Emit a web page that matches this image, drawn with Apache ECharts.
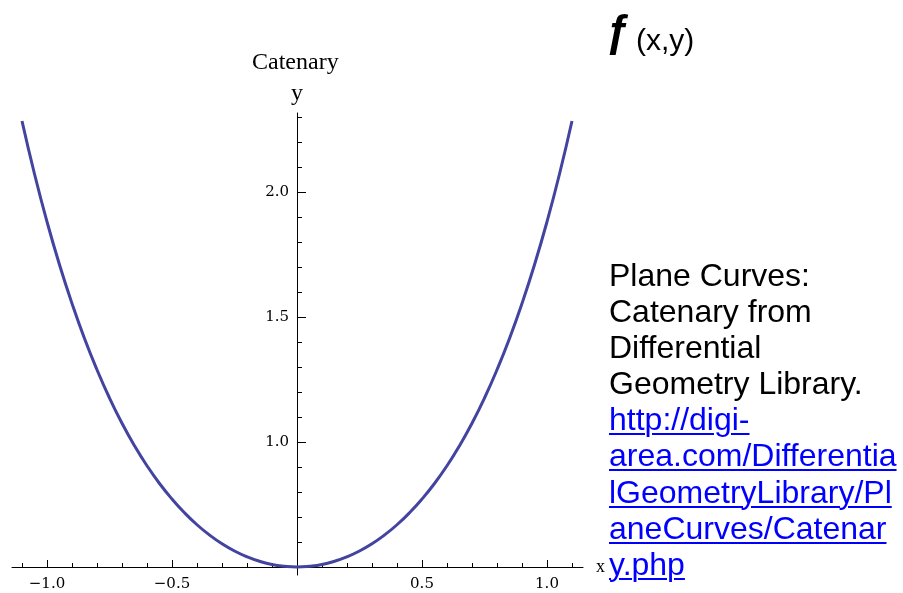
<!DOCTYPE html>
<html>
<head>
<meta charset="utf-8">
<title>Catenary</title>
<script src="https://cdn.jsdelivr.net/npm/echarts@6/dist/echarts.min.js"></script>
<style>
  html, body { margin: 0; padding: 0; background: #fff; }
  #wrap { position: relative; width: 903px; height: 593px; overflow: hidden; }
  #chart { position: absolute; left: 0; top: 0; width: 903px; height: 593px; }
  .fx { position: absolute; color: #000; font-family: 'Liberation Sans', Arial, sans-serif; line-height: 1; white-space: nowrap; }
  #caption {
    position: absolute; left: 609px; top: 257px;
    font-family: 'Liberation Sans', Arial, sans-serif; font-size: 32px; line-height: 36.1px;
    color: #000; white-space: nowrap;
  }
  #caption a { color: #0000ff; text-decoration: underline; text-decoration-thickness: 2px; text-underline-offset: 3px; }
</style>
</head>
<body>
<div id="wrap">
  <div id="chart"></div>
  <span class="fx" style="left:606px; top:9px; font-size:44px; font-weight:bold;">ƒ</span>
  <span class="fx" style="left:636px; top:25px; font-size:30px;">(x,y)</span>
  <div id="caption">Plane Curves:<br>Catenary from<br>Differential<br>Geometry Library.<br><a href="http://digi-area.com/DifferentialGeometryLibrary/PlaneCurves/Catenary.php">http://digi-<br>area.com/Differentia<br>lGeometryLibrary/Pl<br>aneCurves/Catenar<br>y.php</a></div>
</div>
<script>
// Catenary curve samples (x, y)
const xValues = [-1.1, -1.05, -1.0, -0.95, -0.9, -0.85, -0.8, -0.75, -0.7, -0.65, -0.6, -0.55, -0.5, -0.45, -0.4, -0.35, -0.3, -0.25, -0.2, -0.15, -0.1, -0.05,
  0, 0.05, 0.1, 0.15, 0.2, 0.25, 0.3, 0.35, 0.4, 0.45, 0.5, 0.55, 0.6, 0.65, 0.7, 0.75, 0.8, 0.85, 0.9, 0.95, 1.0, 1.05, 1.1];
const yValues = [2.284, 2.072, 1.881, 1.709, 1.554, 1.414, 1.289, 1.176, 1.075, 0.985, 0.905, 0.834, 0.772, 0.717, 0.669, 0.628, 0.593, 0.564, 0.541, 0.523, 0.510, 0.503,
  0.500, 0.503, 0.510, 0.523, 0.541, 0.564, 0.593, 0.628, 0.669, 0.717, 0.772, 0.834, 0.905, 0.985, 1.075, 1.176, 1.289, 1.414, 1.554, 1.709, 1.881, 2.072, 2.284];

// Axis extents and tick positions
const xRange = [-1.14, 1.144];
const yRange = [0.468, 2.316];
const xMajorTicks = [-1.0, -0.5, 0.5, 1.0];
const xMinorTicks = [-1.1, -0.9, -0.8, -0.7, -0.6, -0.4, -0.3, -0.2, -0.1, 0.1, 0.2, 0.3, 0.4, 0.6, 0.7, 0.8, 0.9, 1.1];
const yMajorTicks = [1.0, 1.5, 2.0];
const yMinorTicks = [0.6, 0.7, 0.8, 0.9, 1.1, 1.2, 1.3, 1.4, 1.6, 1.7, 1.8, 1.9, 2.1, 2.2, 2.3];

const tickFont = { color: '#000', fontFamily: 'DejaVu Serif', fontSize: 15 };
const fmt = v => v.toFixed(1).replace('-', '\u2212');
const axisColor = '#000';

const gridBox = { left: 12, right: 320, top: 113, bottom: 18, containLabel: false, outerBoundsMode: 'none' };
// the vertical axis crosses the horizontal one at x = 0, i.e. this far in from the grid's left edge
const yAxisShift = -Math.round((0 - xRange[0]) / (xRange[1] - xRange[0]) * (903 - gridBox.left - gridBox.right));
// the horizontal axis crosses the vertical one at y = 0.5
const xAxisShift = -Math.round((0.5 - yRange[0]) / (yRange[1] - yRange[0]) * (593 - gridBox.top - gridBox.bottom));

const chart = echarts.init(document.getElementById('chart'), null, { renderer: 'canvas' });

chart.setOption({
  animation: false,
  backgroundColor: '#fff',
  title: {
    text: 'Catenary',
    left: 252, top: 51, padding: 0,
    textStyle: { fontFamily: 'Liberation Serif', fontSize: 24, fontWeight: 'normal', color: '#000' }
  },
  grid: [
    Object.assign({}, gridBox),
    Object.assign({}, gridBox)
  ],
  xAxis: [
    {
      type: 'value', gridIndex: 0, min: xRange[0], max: xRange[1],
      position: 'bottom', offset: xAxisShift,
      axisLine: { show: true, onZero: false, lineStyle: { color: axisColor, width: 1 } },
      axisTick: { show: true, inside: true, length: 7, customValues: xMajorTicks, lineStyle: { color: axisColor } },
      axisLabel: Object.assign({ show: true, margin: 10, customValues: xMajorTicks, formatter: fmt }, tickFont),
      splitLine: { show: false },
      name: 'x', nameLocation: 'end', nameGap: 13,
      nameTextStyle: { fontFamily: 'Liberation Serif', fontSize: 18, color: '#000', align: 'left', verticalAlign: 'middle' }
    },
    {
      type: 'value', gridIndex: 1, min: xRange[0], max: xRange[1],
      position: 'bottom', offset: xAxisShift,
      axisLine: { show: false, onZero: false },
      axisTick: { show: true, inside: true, length: 4, customValues: xMinorTicks, lineStyle: { color: axisColor } },
      axisLabel: { show: false },
      splitLine: { show: false }
    }
  ],
  yAxis: [
    {
      type: 'value', gridIndex: 0, min: yRange[0], max: yRange[1],
      position: 'left', offset: yAxisShift,
      axisLine: { show: true, onZero: false, lineStyle: { color: axisColor, width: 1 } },
      axisTick: { show: true, inside: true, length: 9, customValues: yMajorTicks, lineStyle: { color: axisColor } },
      axisLabel: Object.assign({ show: true, margin: 8, customValues: yMajorTicks, formatter: fmt }, tickFont),
      splitLine: { show: false },
      name: 'y', nameLocation: 'end', nameGap: 7,
      nameTextStyle: { fontFamily: 'Liberation Serif', fontSize: 24, color: '#000', align: 'center' }
    },
    {
      type: 'value', gridIndex: 1, min: yRange[0], max: yRange[1],
      position: 'left', offset: yAxisShift,
      axisLine: { show: false, onZero: false },
      axisTick: { show: true, inside: true, length: 5, customValues: yMinorTicks, lineStyle: { color: axisColor } },
      axisLabel: { show: false },
      splitLine: { show: false }
    }
  ],
  series: [
    {
      type: 'line',
      xAxisIndex: 0, yAxisIndex: 0,
      data: xValues.map((x, i) => [x, yValues[i]]),
      smooth: true,
      showSymbol: false,
      lineStyle: { color: '#4343a0', width: 3 },
      clip: false
    }
  ]
});
</script>
</body>
</html>
